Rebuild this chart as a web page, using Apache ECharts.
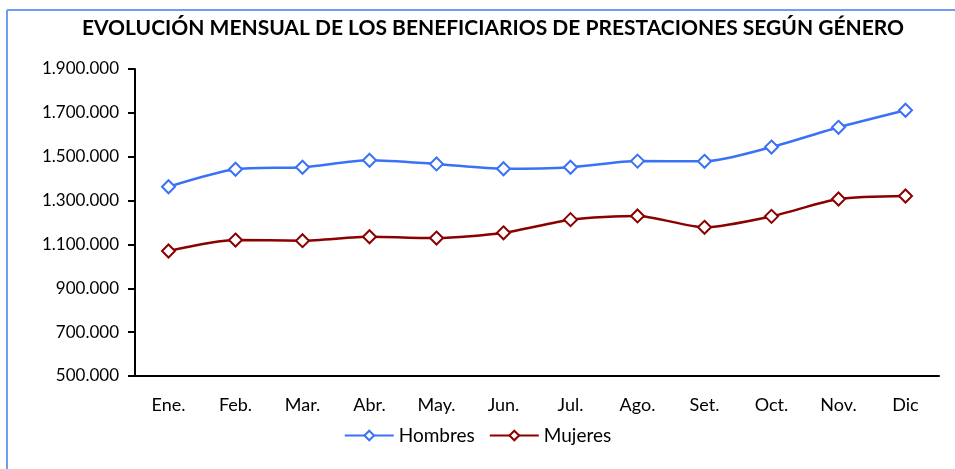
<!DOCTYPE html>
<html>
<head>
<meta charset="utf-8">
<script src="https://cdn.jsdelivr.net/npm/echarts@6/dist/echarts.min.js"></script>
<style>
html,body{margin:0;padding:0;background:#fff;}
#c{width:955px;height:469px;}
</style>
</head>
<body>
<div id="c"></div>
<script>
const categories = ['Ene.','Feb.','Mar.','Abr.','May.','Jun.','Jul.','Ago.','Set.','Oct.','Nov.','Dic'];
const hombres = [1363000,1443000,1452000,1484000,1467000,1445000,1452000,1480000,1479000,1544000,1634000,1712000];
const mujeres = [1070000,1120000,1117000,1135000,1129000,1153000,1213000,1230000,1178000,1228000,1307000,1321000];
const yMin = 500000, yMax = 1900000, yStep = 200000;

function fmt(v){ return String(v).replace(/\B(?=(\d{3})+(?!\d))/g,'.'); }

const FONT = 'Lato';
const chart = echarts.init(document.getElementById('c'));
chart.setOption({
  animation:false,
  backgroundColor:'#fff',
  graphic:[
    {type:'line',shape:{x1:7,y1:10,x2:960,y2:10},style:{stroke:'#6f9cf5',lineWidth:2},silent:true,z:-1},
    {type:'line',shape:{x1:7,y1:10,x2:7,y2:475},style:{stroke:'#6f9cf5',lineWidth:2},silent:true,z:-1}
  ],
  title:{
    text:'EVOLUCIÓN MENSUAL DE LOS BENEFICIARIOS DE PRESTACIONES SEGÚN GÉNERO',
    left:488, top:13, textAlign:'center',
    textStyle:{fontFamily:FONT,fontWeight:'bold',fontSize:21,color:'#000'}
  },
  legend:{
    bottom:19, left:'center', itemGap:14, itemWidth:49, itemHeight:12,
    textStyle:{fontFamily:FONT,fontSize:19,color:'#000'},
    data:['Hombres','Mujeres']
  },
  grid:{left:135,right:16,top:69,bottom:93,containLabel:false},
  xAxis:{
    type:'category', data:categories, boundaryGap:true,
    axisLine:{lineStyle:{color:'#000',width:2}},
    axisTick:{show:false},
    axisLabel:{fontFamily:FONT,fontSize:18,color:'#000',margin:20}
  },
  yAxis:{
    type:'value', min:yMin, max:yMax, interval:yStep,
    splitLine:{show:false},
    axisLine:{show:true,lineStyle:{color:'#000',width:2}},
    axisTick:{show:true,length:7,lineStyle:{color:'#000',width:2}},
    axisLabel:{fontFamily:FONT,fontSize:17,color:'#000',margin:16,formatter:fmt}
  },
  series:[
    {name:'Hombres',type:'line',data:hombres,smooth:0.25,symbol:'emptyDiamond',symbolSize:13,
     lineStyle:{color:'#3a72f5',width:2.5},itemStyle:{color:'#3a72f5',borderWidth:2.5}},
    {name:'Mujeres',type:'line',data:mujeres,smooth:0.25,symbol:'emptyDiamond',symbolSize:13,
     lineStyle:{color:'#8b0000',width:2.5},itemStyle:{color:'#8b0000',borderWidth:2.5}}
  ]
});
</script>
</body>
</html>
